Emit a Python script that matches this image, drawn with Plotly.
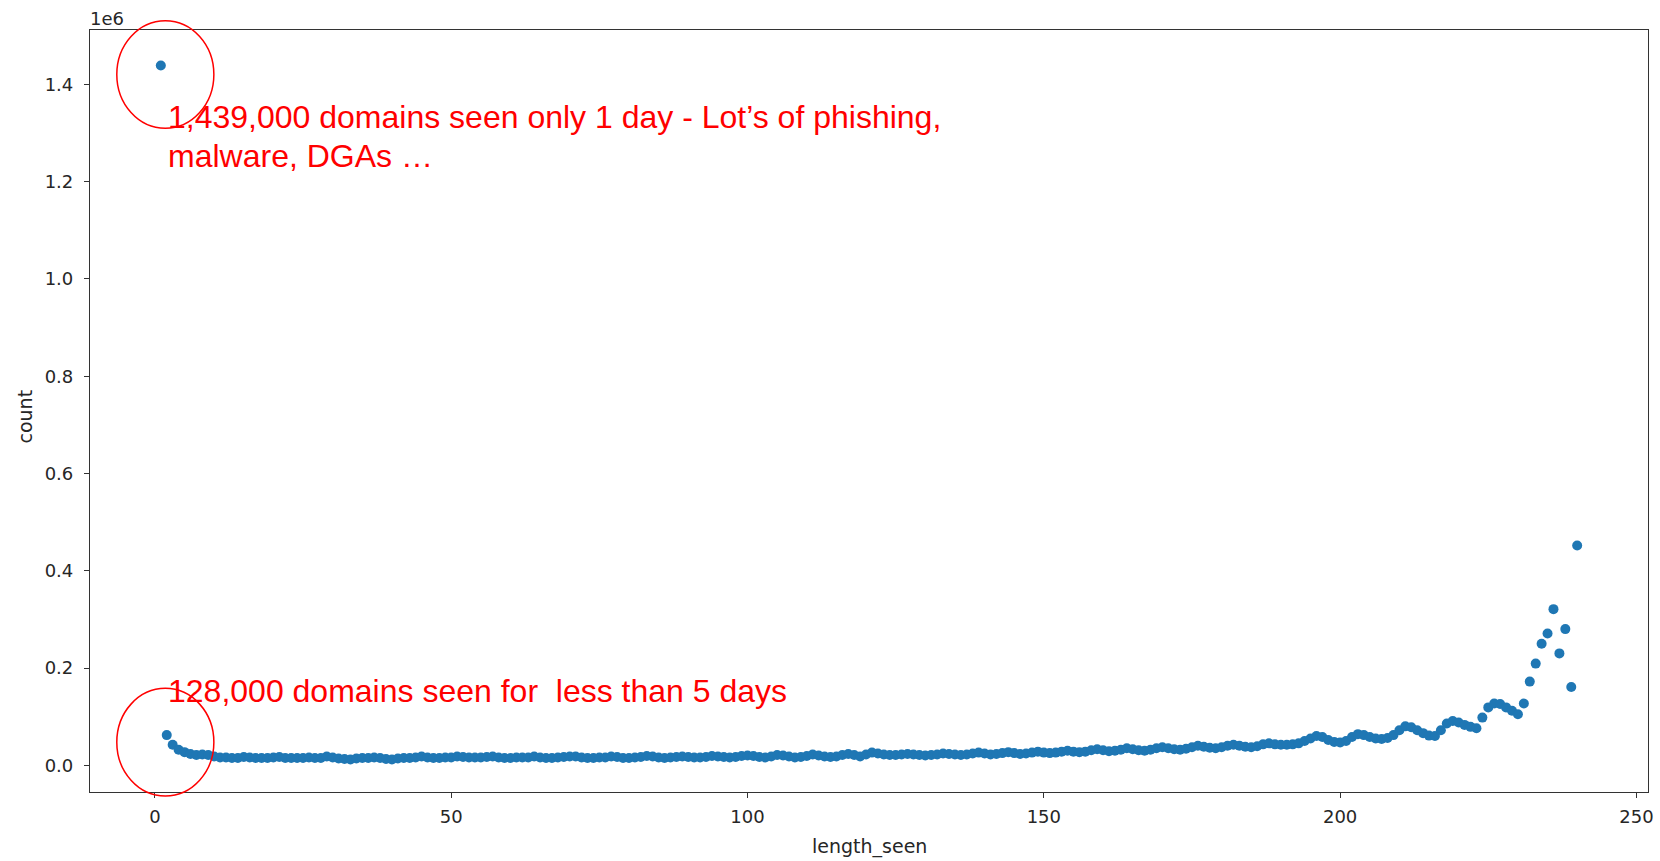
import plotly.graph_objects as go

# ---- data ----
length_seen = list(range(1, 241))
count = [
    1439000, 62000, 42000, 32000, 27000, 23000, 21000, 22000, 21000, 18000,
    16000, 16000, 15000, 15000, 17000, 16000, 15000, 15000, 15000, 16000,
    17000, 15000, 15000, 15000, 15000, 16000, 15000, 15000, 18000, 16000,
    14000, 13000, 12000, 14000, 15000, 15000, 16000, 15000, 13000, 12000,
    14000, 15000, 15000, 16000, 18000, 16000, 15000, 15000, 16000, 16000,
    18000, 17000, 16000, 16000, 16000, 17000, 18000, 16000, 15000, 15000,
    16000, 16000, 16000, 18000, 16000, 15000, 15000, 16000, 17000, 18000,
    18000, 16000, 15000, 15000, 16000, 16000, 18000, 17000, 15000, 15000,
    16000, 17000, 19000, 18000, 16000, 15000, 16000, 17000, 18000, 17000,
    16000, 16000, 17000, 19000, 18000, 17000, 16000, 17000, 19000, 20000,
    19000, 17000, 16000, 18000, 21000, 20000, 18000, 16000, 17000, 19000,
    22000, 20000, 18000, 17000, 18000, 21000, 23000, 21000, 18000, 22000,
    26000, 24000, 22000, 21000, 21000, 22000, 23000, 22000, 21000, 20000,
    21000, 22000, 24000, 23000, 22000, 21000, 22000, 24000, 26000, 24000,
    22000, 23000, 25000, 27000, 25000, 23000, 24000, 26000, 28000, 26000,
    25000, 26000, 28000, 30000, 28000, 27000, 28000, 31000, 33000, 31000,
    29000, 30000, 32000, 35000, 33000, 31000, 30000, 32000, 35000, 37000,
    35000, 33000, 32000, 34000, 37000, 40000, 38000, 36000, 35000, 37000,
    40000, 42000, 40000, 38000, 37000, 39000, 43000, 45000, 43000, 42000,
    42000, 43000, 45000, 50000, 55000, 60000, 58000, 52000, 48000, 47000,
    50000, 58000, 64000, 62000, 58000, 55000, 54000, 56000, 62000, 72000,
    80000, 78000, 72000, 66000, 61000, 60000, 72000, 86000, 91000, 88000,
    83000, 79000, 76000, 98000, 119000, 127000, 126000, 119000, 112000, 105000,
    127000, 172000, 209000, 250000, 271000, 321000, 230000, 280000, 161000, 452000,
]

x_tick_vals = [0, 50, 100, 150, 200, 250]
x_tick_text = ["0", "50", "100", "150", "200", "250"]
y_tick_vals = [0, 200000, 400000, 600000, 800000, 1000000, 1200000, 1400000]
y_tick_text = ["0.0", "0.2", "0.4", "0.6", "0.8", "1.0", "1.2", "1.4"]

note_top_1 = "1,439,000 domains seen only 1 day - Lot’s of phishing,"
note_top_2 = "malware, DGAs …"
note_bottom = "128,000 domains seen for  less than 5 days"

# ---- figure ----
W, H = 1660, 861
L, R, T, B = 90, 6, 30, 69

fig = go.Figure()
fig.add_trace(go.Scatter(
    x=length_seen, y=count, mode="markers",
    marker=dict(color="#1f77b4", size=10, line=dict(width=0)),
    showlegend=False, hoverinfo="x+y",
))

axis_common = dict(
    showgrid=False, zeroline=False, showline=True, linecolor="#333333",
    linewidth=1.2, mirror=True, ticks="outside", ticklen=5, tickwidth=1,
    tickcolor="#333333", ticklabeloverflow="allow",
    tickfont=dict(family="DejaVu Sans", size=18, color="#262626"),
)
fig.update_xaxes(range=[-10.95, 251.95], tickvals=x_tick_vals, ticktext=x_tick_text,
                 ticklabelstandoff=3, **axis_common)
fig.update_yaxes(range=[-55000, 1512000], tickvals=y_tick_vals, ticktext=y_tick_text,
                 ticklabelstandoff=7, **axis_common)

label_font = dict(family="DejaVu Sans", size=19, color="#262626")
red_font = dict(family="Liberation Sans", size=32, color="#ff0000")
annotations = [
    dict(text="1e6", x=-0.001, y=1.0157, xref="paper", yref="paper", xanchor="left",
         yanchor="middle", showarrow=False,
         font=dict(family="DejaVu Sans", size=18, color="#262626")),
    dict(text="count", x=-0.0416, y=0.493, xref="paper", yref="paper", textangle=-90,
         xanchor="center", yanchor="middle", showarrow=False, font=label_font),
    dict(text="length_seen", x=0.5, y=-0.072, xref="paper", yref="paper",
         xanchor="center", yanchor="middle", showarrow=False, font=label_font),
    dict(text=note_top_1, x=0.049, y=0.886, xref="paper", yref="paper", xanchor="left",
         yanchor="middle", align="left", showarrow=False, font=red_font),
    dict(text=note_top_2, x=0.049, y=0.835, xref="paper", yref="paper", xanchor="left",
         yanchor="middle", align="left", showarrow=False, font=red_font),
    dict(text=note_bottom, x=0.049, y=0.1328, xref="paper", yref="paper", xanchor="left",
         yanchor="middle", align="left", showarrow=False, font=red_font),
]

shapes = [
    dict(type="circle", xref="paper", yref="paper", x0=0.0172, x1=0.0795, y0=0.871, y1=1.0122,
         line=dict(color="#ff0000", width=1.5), layer="above"),
    dict(type="circle", xref="paper", yref="paper", x0=0.0172, x1=0.0795, y0=-0.0052, y1=0.136,
         line=dict(color="#ff0000", width=1.5), layer="above"),
]

fig.update_layout(
    width=W, height=H, margin=dict(l=L, r=R, t=T, b=B),
    paper_bgcolor="white", plot_bgcolor="white",
    annotations=annotations, shapes=shapes,
)

fig.write_html(
    "out.html",
    config={"displayModeBar": False},
    post_script="document.body.style.margin='0';document.documentElement.style.overflow='hidden';",
)
